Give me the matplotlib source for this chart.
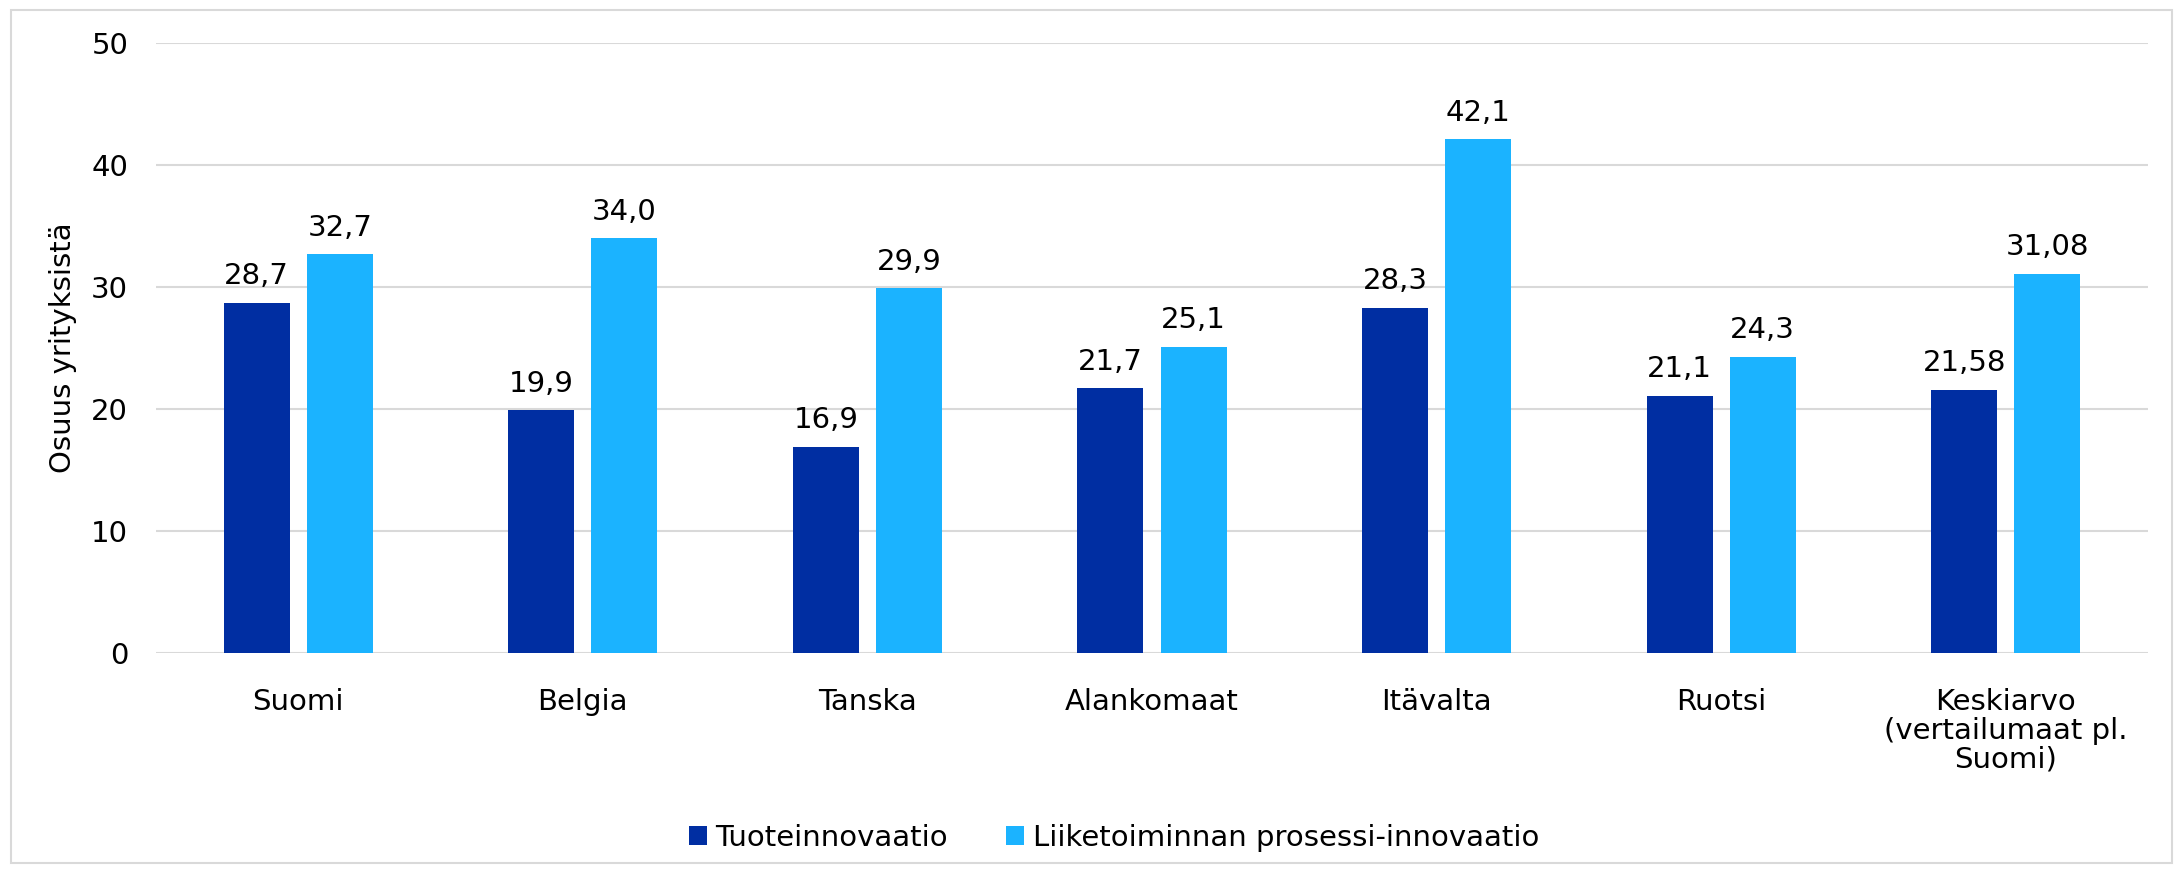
import matplotlib
matplotlib.use('Agg')
import matplotlib.pyplot as plt
import numpy as np
from matplotlib.patches import Rectangle

# Data
maat = ['Suomi', 'Belgia', 'Tanska', 'Alankomaat', 'Itävalta', 'Ruotsi',
        'Keskiarvo\n(vertailumaat pl.\nSuomi)']
tuote = [28.7, 19.9, 16.9, 21.7, 28.3, 21.1, 21.58]
prosessi = [32.7, 34.0, 29.9, 25.1, 42.1, 24.3, 31.08]
sarjat = ['Tuoteinnovaatio', 'Liiketoiminnan prosessi-innovaatio']
yticks = [0, 10, 20, 30, 40, 50]

plt.rcParams['font.family'] = ['DejaVu Sans']
fs = 21

fig = plt.figure(figsize=(21.83, 8.73), dpi=100)
W, H = 2183, 873
ax = fig.add_axes([156 / W, 1 - 653 / H, (2148 - 156) / W, (653 - 43) / H])

x = np.arange(len(maat))
w = 0.232
off = 0.146
b1 = ax.bar(x - off, tuote, w, color='#002EA2', label=sarjat[0], zorder=3)
b2 = ax.bar(x + off, prosessi, w, color='#1BB3FF', label=sarjat[1], zorder=3)

# arvot palkkien päälle
for bars, vals in [(b1, tuote), (b2, prosessi)]:
    for b, v in zip(bars, vals):
        ax.annotate(str(v).replace('.', ','), (b.get_x() + b.get_width() / 2, v),
                    xytext=(0, 9), textcoords='offset points',
                    ha='center', va='bottom', fontsize=fs)

ax.set_xlim(-0.5, len(maat) - 0.5)
ax.set_ylim(0, 50)
ax.set_yticks(yticks)
ax.set_yticklabels([str(t) for t in yticks], fontsize=fs)
ax.set_xticks(x)
ax.set_xticklabels(maat, fontsize=fs, linespacing=1.05)
ax.tick_params(axis='both', length=0)
ax.tick_params(axis='x', pad=25)
ax.tick_params(axis='y', pad=20)
ax.grid(axis='y', color='#D9D9D9', linewidth=1.5, zorder=0)
for s in ax.spines.values():
    s.set_visible(False)
ax.set_ylabel('Osuus yrityksistä', fontsize=fs, labelpad=10)

leg = fig.legend(handles=[b1, b2], labels=sarjat, loc='center',
                 bbox_to_anchor=(1114 / W, 1 - 838 / H), ncol=2, frameon=False,
                 fontsize=fs, handlelength=0.6, handleheight=0.6,
                 handletextpad=0.3, columnspacing=2.0)

# reunus
fig.patches.append(Rectangle((11 / W, 10 / H), (2172 - 11) / W, (863 - 10) / H,
                             transform=fig.transFigure, fill=False,
                             edgecolor='#D9D9D9', linewidth=1.5))

fig.savefig('out.png', dpi=100)
